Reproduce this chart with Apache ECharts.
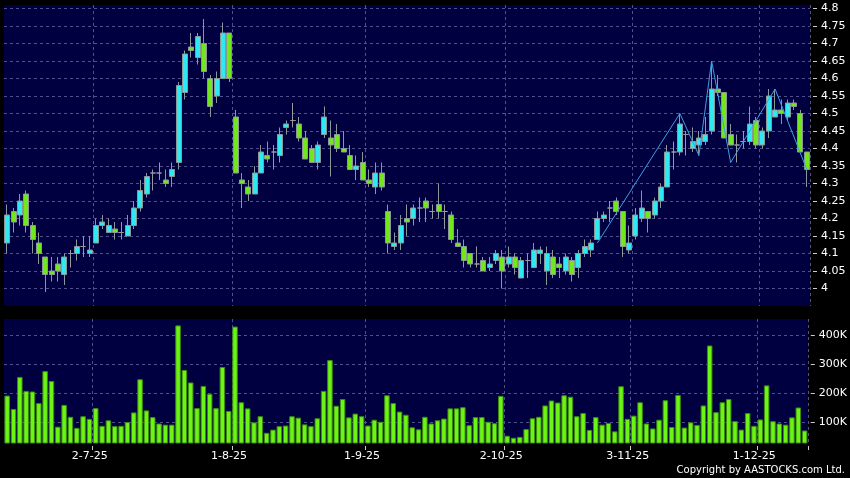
<!DOCTYPE html>
<html>
<head>
<meta charset="utf-8">
<script src="https://cdn.jsdelivr.net/npm/echarts@6/dist/echarts.min.js"></script>
<style>
  html, body { margin: 0; padding: 0; background: #000; }
  #chart { width: 850px; height: 478px; }
</style>
</head>
<body>
<div id="chart"></div>
<script>
// trading days, d-m-yy
const dates = [
  '11-6-25','12-6-25','13-6-25','16-6-25','17-6-25','18-6-25','19-6-25','20-6-25','23-6-25','24-6-25','25-6-25','26-6-25','27-6-25','30-6-25',
  '2-7-25','3-7-25','4-7-25','7-7-25','8-7-25','9-7-25','10-7-25','11-7-25','14-7-25','15-7-25','16-7-25','17-7-25','18-7-25','21-7-25','22-7-25','23-7-25','24-7-25','25-7-25','28-7-25','29-7-25','30-7-25','31-7-25',
  '1-8-25','4-8-25','5-8-25','6-8-25','7-8-25','8-8-25','11-8-25','12-8-25','13-8-25','14-8-25','15-8-25','18-8-25','19-8-25','20-8-25','21-8-25','22-8-25','25-8-25','26-8-25','27-8-25','28-8-25','29-8-25',
  '1-9-25','2-9-25','3-9-25','4-9-25','5-9-25','8-9-25','9-9-25','10-9-25','11-9-25','12-9-25','15-9-25','16-9-25','17-9-25','18-9-25','19-9-25','22-9-25','23-9-25','24-9-25','25-9-25','26-9-25','29-9-25','30-9-25',
  '2-10-25','3-10-25','6-10-25','8-10-25','9-10-25','10-10-25','13-10-25','14-10-25','15-10-25','16-10-25','17-10-25','20-10-25','21-10-25','22-10-25','23-10-25','24-10-25','27-10-25','28-10-25','30-10-25','31-10-25',
  '3-11-25','4-11-25','5-11-25','6-11-25','7-11-25','10-11-25','11-11-25','12-11-25','13-11-25','14-11-25','17-11-25','18-11-25','19-11-25','20-11-25','21-11-25','24-11-25','25-11-25','26-11-25','27-11-25','28-11-25',
  '1-12-25','2-12-25','3-12-25','4-12-25','5-12-25','8-12-25','9-12-25','10-12-25'
];
const tickDates = ['2-7-25', '1-8-25', '1-9-25', '2-10-25', '3-11-25', '1-12-25'];

const opens = [
  4.13,4.22,4.21,4.27,4.18,4.13,4.09,4.05,4.07,4.04,
  4.10,4.10,4.12,4.10,4.13,4.18,4.16,4.17,4.16,4.15,
  4.18,4.23,4.27,4.33,4.33,4.31,4.32,4.36,4.56,4.69,
  4.66,4.70,4.60,4.55,4.60,4.73,4.49,4.31,4.29,4.27,
  4.33,4.38,4.39,4.38,4.46,4.48,4.47,4.43,4.40,4.36,
  4.44,4.43,4.44,4.40,4.38,4.34,4.36,4.31,4.29,4.33,
  4.22,4.12,4.13,4.20,4.20,4.23,4.25,4.22,4.24,4.22,
  4.21,4.13,4.12,4.10,4.07,4.08,4.06,4.08,4.09,4.07,
  4.09,4.03,4.08,4.06,4.10,4.05,4.09,4.07,4.05,4.08,
  4.06,4.10,4.11,4.14,4.20,4.23,4.25,4.22,4.11,4.15,
  4.20,4.22,4.21,4.25,4.29,4.39,4.39,4.44,4.40,4.41,
  4.42,4.45,4.57,4.56,4.44,4.41,4.42,4.42,4.48,4.41,
  4.45,4.49,4.51,4.49,4.53,4.50,4.39
];
const closes = [
  4.21,4.19,4.25,4.18,4.14,4.10,4.04,4.04,4.05,4.09,
  4.10,4.12,4.12,4.11,4.18,4.19,4.18,4.16,4.16,4.18,
  4.23,4.28,4.32,4.33,4.33,4.30,4.34,4.58,4.67,4.68,
  4.72,4.62,4.52,4.60,4.73,4.60,4.33,4.30,4.27,4.33,
  4.39,4.37,4.39,4.44,4.47,4.48,4.43,4.37,4.36,4.41,
  4.49,4.41,4.40,4.39,4.34,4.35,4.31,4.30,4.33,4.29,
  4.13,4.13,4.18,4.19,4.23,4.23,4.23,4.22,4.22,4.22,
  4.14,4.12,4.08,4.07,4.07,4.05,4.07,4.10,4.05,4.09,
  4.06,4.08,4.08,4.11,4.11,4.10,4.04,4.06,4.09,4.04,
  4.10,4.12,4.13,4.20,4.21,4.23,4.22,4.12,4.13,4.21,
  4.23,4.20,4.25,4.29,4.39,4.39,4.47,4.44,4.42,4.43,
  4.44,4.57,4.56,4.43,4.41,4.41,4.42,4.47,4.41,4.45,
  4.55,4.51,4.50,4.53,4.52,4.39,4.34
];
const lows = [
  4.10,4.16,4.18,4.16,4.10,4.07,3.99,4.02,4.02,4.01,
  4.06,4.08,4.09,4.09,4.13,4.17,4.16,4.14,4.14,4.15,
  4.17,4.22,4.26,4.28,4.31,4.29,4.29,4.34,4.54,4.66,
  4.64,4.60,4.49,4.53,4.60,4.59,4.33,4.23,4.25,4.27,
  4.33,4.36,4.34,4.36,4.44,4.46,4.42,4.37,4.36,4.34,
  4.43,4.32,4.39,4.39,4.34,4.31,4.31,4.29,4.27,4.28,
  4.10,4.11,4.11,4.15,4.18,4.19,4.19,4.20,4.20,4.17,
  4.13,4.12,4.06,4.06,4.06,4.05,4.05,4.07,4.00,4.06,
  4.04,4.03,4.03,4.06,4.07,4.01,4.03,4.03,4.04,4.02,
  4.03,4.09,4.09,4.14,4.19,4.19,4.21,4.09,4.10,4.14,
  4.19,4.16,4.20,4.23,4.29,4.34,4.38,4.38,4.39,4.38,
  4.41,4.44,4.55,4.43,4.41,4.36,4.40,4.41,4.40,4.40,
  4.43,4.49,4.47,4.48,4.51,4.39,4.29
];
const highs = [
  4.24,4.23,4.27,4.28,4.19,4.16,4.09,4.09,4.09,4.10,
  4.11,4.14,4.15,4.15,4.20,4.21,4.20,4.19,4.19,4.21,
  4.25,4.31,4.33,4.34,4.36,4.34,4.36,4.59,4.68,4.73,
  4.73,4.77,4.61,4.62,4.76,4.73,4.51,4.33,4.31,4.35,
  4.41,4.42,4.41,4.46,4.48,4.53,4.49,4.45,4.41,4.42,
  4.52,4.48,4.47,4.45,4.41,4.38,4.39,4.34,4.36,4.36,
  4.24,4.16,4.21,4.24,4.24,4.26,4.26,4.24,4.30,4.24,
  4.22,4.17,4.14,4.10,4.12,4.09,4.09,4.11,4.11,4.12,
  4.10,4.09,4.10,4.13,4.12,4.12,4.11,4.09,4.10,4.09,
  4.11,4.14,4.14,4.22,4.22,4.25,4.26,4.22,4.18,4.23,
  4.28,4.22,4.26,4.30,4.41,4.42,4.50,4.45,4.46,4.45,
  4.49,4.65,4.61,4.56,4.47,4.44,4.45,4.52,4.49,4.46,
  4.57,4.57,4.54,4.54,4.54,4.51,4.39
];
// volume in thousands of shares
const volumes = [
  193,147,257,209,207,167,277,243,86,161,
  120,82,122,113,150,89,108,88,89,102,
  135,249,142,119,97,93,93,434,281,238,
  150,226,199,150,291,140,430,170,149,101,
  122,65,76,88,90,122,117,94,88,115,
  209,315,158,181,118,131,122,90,110,103,
  194,167,138,127,84,77,120,97,108,114,
  149,149,153,91,119,119,103,98,192,55,
  48,51,78,115,120,159,176,169,194,189,
  122,133,75,119,93,99,70,225,113,124,
  170,97,80,110,177,85,195,83,101,92,
  159,365,136,170,181,105,76,133,89,111,
  228,105,97,93,118,152,73
];
// zigzag turning points
const zigzagDates = ['23-10-25', '12-11-25', '17-11-25', '19-11-25', '24-11-25', '3-12-25', '10-12-25'];
const zigzagValues = [4.13, 4.50, 4.38, 4.65, 4.36, 4.57, 4.34];

const candleData = dates.map((d, i) => [opens[i], closes[i], lows[i], highs[i]]);
const zigzagData = zigzagDates.map((d, i) => [d, zigzagValues[i]]);

const font = 'DejaVu Sans';
const gridLine = { show: true, lineStyle: { color: '#50508a', type: [3, 3], width: 1 } };
const isTick = (index, value) => tickDates.includes(value);

const chart = echarts.init(document.getElementById('chart'));
chart.setOption({
  animation: false,
  backgroundColor: '#000000',
  grid: [
    { left: 4, right: 40, top: 5, height: 301, show: true, backgroundColor: '#000040', borderWidth: 0 },
    { left: 4, right: 40, top: 319, height: 124, show: true, backgroundColor: '#000040', borderWidth: 0 }
  ],
  xAxis: [
    {
      type: 'category', gridIndex: 0, data: dates, boundaryGap: true,
      axisLine: { show: false }, axisTick: { show: false }, axisLabel: { show: false },
      splitLine: Object.assign({ interval: isTick }, gridLine)
    },
    {
      type: 'category', gridIndex: 1, data: dates, boundaryGap: true, offset: 3,
      axisLine: { show: false },
      axisTick: { show: true, interval: isTick, length: 4, lineStyle: { color: '#cccccc' } },
      axisLabel: {
        interval: isTick, color: '#ffffff', fontFamily: font, fontSize: 11, margin: 5,
        padding: [0, 12, 0, 0]
      },
      splitLine: Object.assign({ interval: isTick }, gridLine)
    }
  ],
  yAxis: [
    {
      type: 'value', gridIndex: 0, position: 'right', min: 3.95, max: 4.81, interval: 0.05, offset: 3,
      axisLine: { show: false },
      axisTick: { show: true, length: 4, lineStyle: { color: '#cccccc' } },
      axisLabel: {
        color: '#ffffff', fontFamily: font, fontSize: 11, margin: 8,
        showMinLabel: false, showMaxLabel: false,
        formatter: v => String(+v.toFixed(2))
      },
      splitLine: Object.assign({ showMinLine: false, showMaxLine: false }, gridLine)
    },
    {
      type: 'value', gridIndex: 1, position: 'right', min: 30, max: 456, splitNumber: 4, offset: 3,
      axisLine: { show: false },
      axisTick: { show: true, length: 4, lineStyle: { color: '#cccccc' } },
      axisLabel: {
        color: '#ffffff', fontFamily: font, fontSize: 11, margin: 8,
        showMinLabel: false, showMaxLabel: false,
        formatter: v => (v % 100 === 0 ? v + 'K' : '')
      },
      splitLine: Object.assign({ showMinLine: false, showMaxLine: false }, gridLine)
    }
  ],
  series: [
    {
      type: 'candlestick', xAxisIndex: 0, yAxisIndex: 0, data: candleData, barWidth: 5.5,
      itemStyle: {
        color: '#2ee8f2', color0: '#72e81c',
        borderColor: '#8a9898', borderColor0: '#8a9898', borderColorDoji: '#9a9a9a',
        borderWidth: 1
      }
    },
    {
      type: 'line', xAxisIndex: 0, yAxisIndex: 0, data: zigzagData,
      symbol: 'none', lineStyle: { color: '#3a9fe4', width: 1 }
    },
    {
      type: 'bar', xAxisIndex: 1, yAxisIndex: 1, data: volumes, barWidth: 5.5,
      itemStyle: { color: '#6cf514', borderColor: '#3d8a12', borderWidth: 1 }
    }
  ],
  graphic: [
    {
      type: 'text', right: 5, top: 465,
      style: { text: 'Copyright by AASTOCKS.com Ltd.', fill: '#ffffff', font: '10px "DejaVu Sans"' }
    }
  ]
});
</script>
</body>
</html>
